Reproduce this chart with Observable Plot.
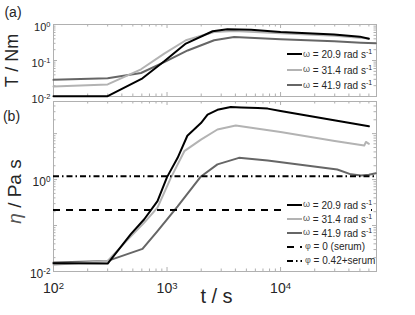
<!DOCTYPE html>
<html>
<head>
<meta charset="utf-8">
<script src="https://cdn.jsdelivr.net/npm/d3@7"></script>
<script src="https://cdn.jsdelivr.net/npm/@observablehq/plot@0.6"></script>
<style>
  html, body { margin: 0; padding: 0; background: #fff; }
  #wrap { position: relative; width: 415px; height: 315px; background: #fff; overflow: hidden;
          font-family: 'Liberation Sans', Arial, Helvetica, sans-serif; color: #262626; }
  .panel { position: absolute; left: 0; }
  .legbox { position: absolute; background: #fff; }
  .legrow { position: absolute; height: 14px; display: flex; align-items: center; white-space: nowrap;
            font-size: 10px; line-height: 1; color: #262626; }
  .legrow svg { display: block; }
  .sym { font-size: 9px; color: #555; margin-left: 1px; }
  .legrow sup { font-size: 7px; vertical-align: 4px; line-height: 1; }
</style>
</head>
<body>
<div id="wrap">
  <div id="pa" class="panel" style="top:0"></div>
  <div id="pb" class="panel" style="top:100px"></div>
</div>
<script>
// ---------------- data ----------------
const tLim = [100, 70000];
const TLim = [0.01, 1];
const etaLim = [0.01, 50];

const omegaLabels = ["20.9", "31.4", "41.9"];
const seriesColors = ["#000000", "#b3b3b3", "#666666"];

// panel (a): torque T / N m
const tA1 = [100, 300, 608, 945, 1465, 2520, 3400, 5500, 10000, 29600, 50000, 60000];
const TA1 = [0.0102, 0.0102, 0.032, 0.095, 0.295, 0.65, 0.74, 0.72, 0.62, 0.53, 0.46, 0.40];
const tA2 = [100, 300, 590, 945, 1465, 2600, 3900, 10000, 30000, 60000];
const TA2 = [0.019, 0.0216, 0.057, 0.155, 0.365, 0.62, 0.66, 0.57, 0.49, 0.41];
const tA3 = [100, 300, 590, 945, 1520, 2600, 3900, 10000, 29600, 51000, 69000];
const TA3 = [0.029, 0.032, 0.045, 0.09, 0.19, 0.365, 0.45, 0.39, 0.34, 0.31, 0.30];

// panel (b): viscosity eta / Pa s
const tB1 = [100, 300, 480, 630, 824, 1000, 1240, 1510, 1990, 2275, 2780, 3640, 4500, 6300, 7700, 10000, 29600, 60000];
const etaB1 = [0.0152, 0.0149, 0.065, 0.137, 0.34, 1.13, 2.97, 9, 17, 26, 33, 38, 37, 36, 35, 31, 19.5, 14.5];
const tB2 = [100, 300, 480, 630, 824, 1080, 1420, 1990, 2780, 4030, 10000, 30000, 54600, 56500, 60000];
const etaB2 = [0.014, 0.017, 0.058, 0.116, 0.245, 1.09, 4.15, 7.4, 12.3, 15, 10.8, 6.9, 5.5, 6.6, 6.0];
const tB3 = [100, 300, 608, 824, 1240, 1990, 2780, 4300, 7700, 31600, 41700, 51000, 60000, 69000];
const etaB3 = [0.0157, 0.017, 0.031, 0.076, 0.26, 1.17, 2.14, 2.97, 2.6, 1.66, 1.3, 1.22, 1.28, 1.38];

const etaSerum = 0.218;      // phi = 0 (serum)
const etaSusp = 1.18;        // phi = 0.42 + serum

const xTickLabels = [100, 1000, 10000];
const yTickLabelsA = [0.01, 0.1, 1];
const yTickLabelsB = [0.01, 1];

// ---------------- helpers ----------------
const axisColor = "#b0b0b0";
const W = 415, ML = 53, MR = 39;
const FW = W - ML - MR;

function series(ts, vs, i) { return ts.map((t, j) => ({t, v: vs[j], s: i})); }
function logTicks(lo, hi) {
  const major = [], minor = [];
  for (let e = Math.floor(Math.log10(lo)); e <= Math.ceil(Math.log10(hi)); e++) {
    for (let k = 1; k <= 9; k++) {
      const v = k * Math.pow(10, e);
      if (v < lo * 0.999 || v > hi * 1.001) continue;
      (k === 1 ? major : minor).push(v);
    }
  }
  return {major, minor};
}
const pow10 = d => "10^" + Math.round(Math.log10(d));

function tickMarks(xlim, ylim, fh) {
  const xt = logTicks(xlim[0], xlim[1]), yt = logTicks(ylim[0], ylim[1]);
  const o = {stroke: axisColor, strokeWidth: 1};
  return [
    Plot.tickX(xt.major, {...o, x: d => d, insetTop: fh - 4}),
    Plot.tickX(xt.major, {...o, x: d => d, insetBottom: fh - 4}),
    Plot.tickX(xt.minor, {...o, x: d => d, insetTop: fh - 2.5}),
    Plot.tickX(xt.minor, {...o, x: d => d, insetBottom: fh - 2.5}),
    Plot.tickY(yt.major, {...o, y: d => d, insetRight: FW - 4}),
    Plot.tickY(yt.major, {...o, y: d => d, insetLeft: FW - 4}),
    Plot.tickY(yt.minor, {...o, y: d => d, insetRight: FW - 2.5}),
    Plot.tickY(yt.minor, {...o, y: d => d, insetLeft: FW - 2.5})
  ];
}

function supify(svg) {
  svg.querySelectorAll("text").forEach(t => {
    const m = /^10\^(-?\d+)$/.exec(t.textContent);
    if (m) {
      t.textContent = "10";
      const s = document.createElementNS("http://www.w3.org/2000/svg", "tspan");
      s.setAttribute("dy", "-0.45em");
      s.setAttribute("font-size", "0.68em");
      s.textContent = m[1];
      t.appendChild(s);
    } else if (t.textContent === "η / Pa s") {
      t.textContent = "";
      const a = document.createElementNS("http://www.w3.org/2000/svg", "tspan");
      a.setAttribute("font-style", "italic");
      a.setAttribute("fill", "#555");
      a.textContent = "η";
      t.appendChild(a);
      t.appendChild(document.createTextNode(" / Pa s"));
    }
  });
}

const baseStyle = {fontFamily: "'Liberation Sans', Arial, Helvetica, sans-serif", fontSize: "12px",
                   color: "#262626", background: "transparent", overflow: "visible"};

// ---------------- panel (a) ----------------
const dataA = [...series(tA1, TA1, 0), ...series(tA2, TA2, 1), ...series(tA3, TA3, 2)];
const fhA = 72;
const plotA = Plot.plot({
  width: W, height: 100, marginLeft: ML, marginRight: MR, marginTop: 24, marginBottom: 4,
  style: baseStyle,
  x: {type: "log", domain: tLim, axis: null},
  y: {type: "log", domain: TLim, axis: null},
  marks: [
    Plot.frame({stroke: axisColor, strokeWidth: 1}),
    ...tickMarks(tLim, TLim, fhA),
    ...[2, 1, 0].map(i => Plot.line(dataA.filter(d => d.s === i),
        {x: "t", y: "v", stroke: seriesColors[i], strokeWidth: 2})),
    Plot.axisY({ticks: yTickLabelsA, tickSize: 0, tickPadding: 3, tickFormat: pow10,
                fontSize: 11, dy: 2.5, label: null}),
    Plot.text(["T / Nm"], {frameAnchor: "left", textAnchor: "middle", lineAnchor: "middle",
                           dx: -41, rotate: -90, fontSize: 18}),
    Plot.text(["(a)"], {frameAnchor: "top-left", textAnchor: "middle", lineAnchor: "middle",
                        dx: -40.5, dy: -11.5, fontSize: 14})
  ]
});
supify(plotA);
document.getElementById("pa").appendChild(plotA);

// ---------------- panel (b) ----------------
const dataB = [...series(tB1, etaB1, 0), ...series(tB2, etaB2, 1), ...series(tB3, etaB3, 2)];
const fhB = 170;
const plotB = Plot.plot({
  width: W, height: 215, marginLeft: ML, marginRight: MR, marginTop: 1, marginBottom: 44,
  style: baseStyle,
  x: {type: "log", domain: tLim, axis: null},
  y: {type: "log", domain: etaLim, axis: null},
  marks: [
    Plot.frame({stroke: axisColor, strokeWidth: 1}),
    ...tickMarks(tLim, etaLim, fhB),
    ...[2, 1, 0].map(i => Plot.line(dataB.filter(d => d.s === i),
        {x: "t", y: "v", stroke: seriesColors[i], strokeWidth: 2})),
    Plot.ruleY([etaSerum], {stroke: "#000", strokeWidth: 2, strokeDasharray: "7,6"}),
    Plot.ruleY([etaSusp], {stroke: "#000", strokeWidth: 2, strokeDasharray: "6,3,1.5,3"}),
    Plot.axisY({ticks: yTickLabelsB, tickSize: 0, tickPadding: 3, tickFormat: pow10,
                fontSize: 12, dy: 2.5, label: null}),
    Plot.axisX({ticks: xTickLabels, tickSize: 0, tickPadding: 12, tickFormat: pow10,
                fontSize: 14, label: null}),
    Plot.text(["η / Pa s"], {frameAnchor: "left", textAnchor: "middle", lineAnchor: "middle",
                             dx: -39, dy: 5, rotate: -90, fontSize: 19}),
    Plot.text(["t / s"], {frameAnchor: "bottom", textAnchor: "middle", dx: 1.5, dy: 31, fontSize: 20}),
    Plot.text(["(b)"], {frameAnchor: "top-left", textAnchor: "middle", lineAnchor: "middle",
                        dx: -42, dy: 15, fontSize: 14})
  ]
});
supify(plotB);
document.getElementById("pb").appendChild(plotB);

// ---------------- legends ----------------
const legendA = omegaLabels.map((w, i) => ({sym: "ω", text: " = " + w + " rad s", sup: "-1",
                                              color: seriesColors[i], dash: null}));
const legendB = [...legendA,
  {sym: "φ", text: " = 0 (serum)", sup: "", color: "#000", dash: "7,6"},
  {sym: "φ", text: " = 0.42+serum", sup: "", color: "#000", dash: "6,3,1.5,3"}];

function drawLegend(items, left, y0, step, box) {
  const wrap = document.getElementById("wrap");
  const b = document.createElement("div");
  b.className = "legbox";
  Object.assign(b.style, {left: box[0] + "px", top: box[1] + "px", width: box[2] + "px", height: box[3] + "px"});
  wrap.appendChild(b);
  items.forEach((it, i) => {
    const r = document.createElement("div");
    r.className = "legrow";
    r.style.left = left + "px";
    r.style.top = (y0 + i * step - 7) + "px";
    const dash = it.dash ? ` stroke-dasharray="${it.dash}"` : "";
    r.innerHTML = `<svg width="15" height="4"><line x1="0" x2="15" y1="2" y2="2" stroke="${it.color}" stroke-width="2"${dash}/></svg>` +
      `<span class="sym"${it.dash ? ' style="margin-left:3px"' : ''}>${it.sym}</span><span>${it.text.replace(/ /g, "&nbsp;")}${it.sup ? "<sup>" + it.sup + "</sup>" : ""}</span>`;
    wrap.appendChild(r);
  });
}
drawLegend(legendA, 287, 54, 15.5, [284, 45, 88, 48]);
drawLegend(legendB, 287, 204.5, 14.1, [282, 196, 89, 72]);
</script>
</body>
</html>
